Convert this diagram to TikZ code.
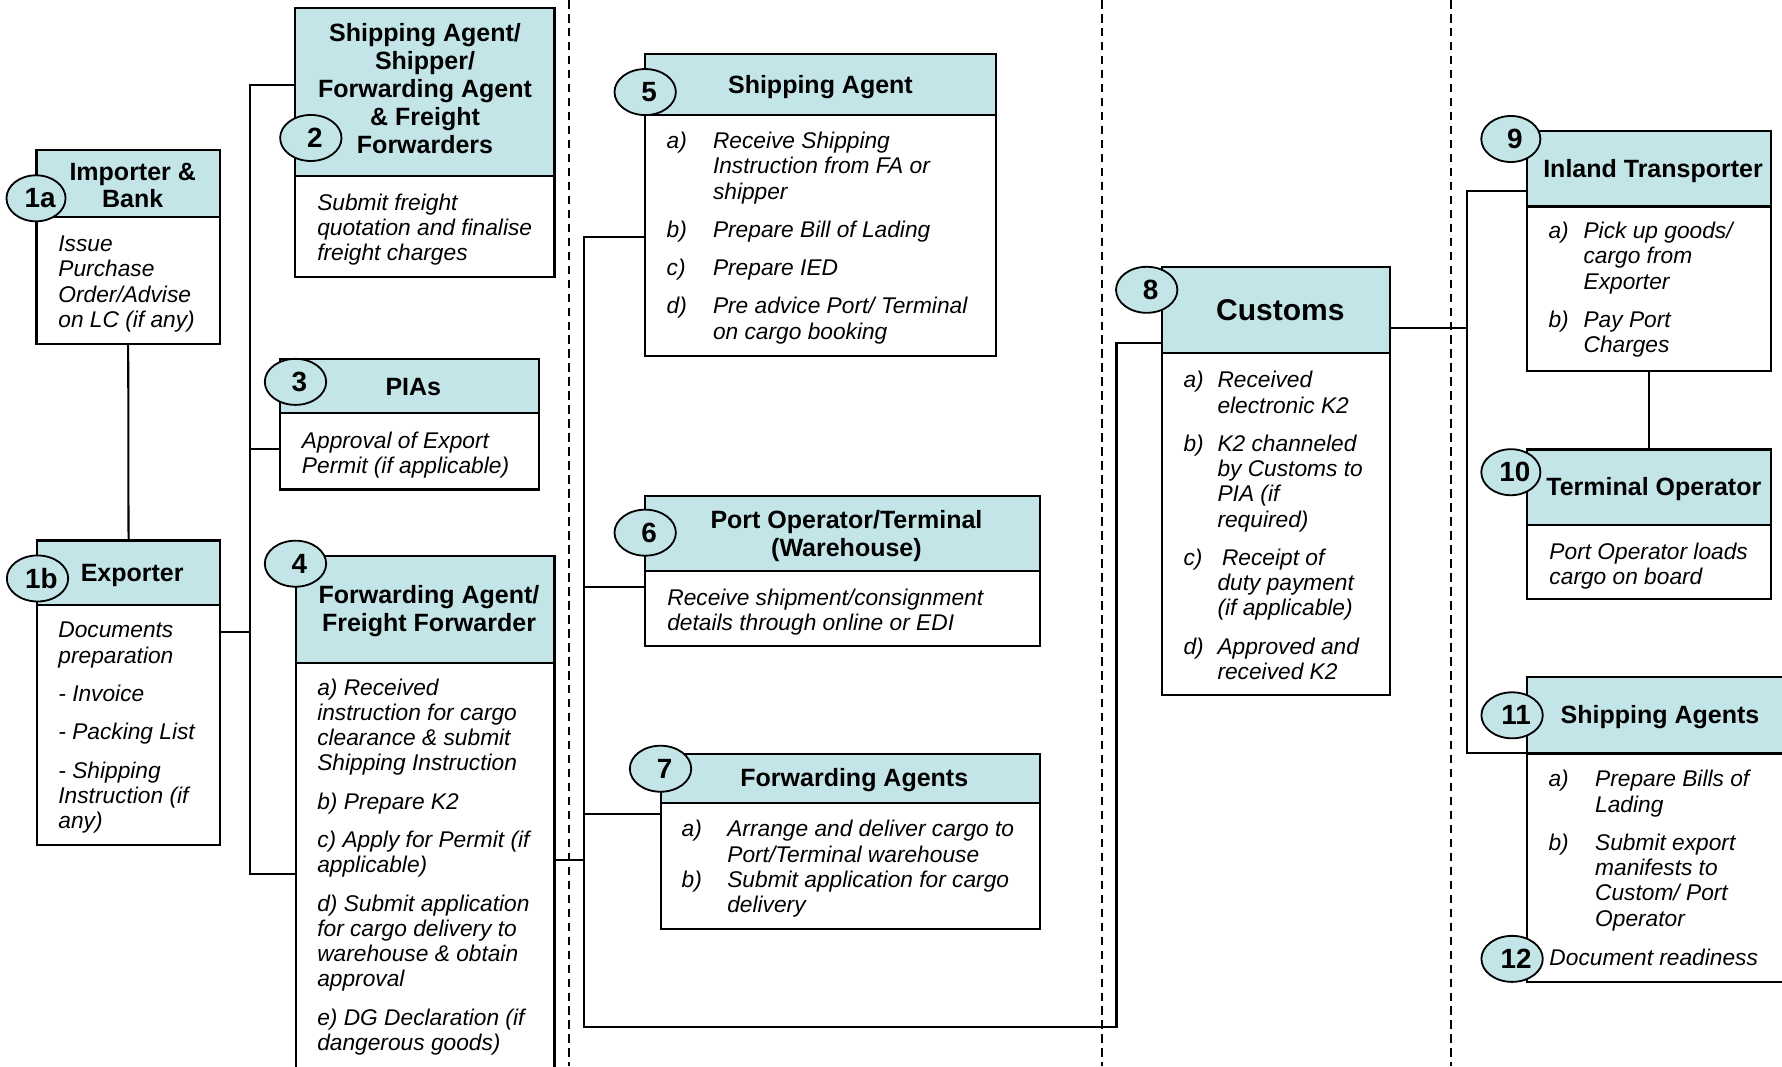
\documentclass[tikz,border=0pt]{standalone}
\usepackage{fontspec}
\setmainfont{Liberation Sans}
\usetikzlibrary{shapes.geometric}
\definecolor{hdrblue}{RGB}{196,229,232}
\newcommand{\bodyfont}{\fontsize{20}{22.2}\selectfont\itshape}
\newcommand{\titlefont}{\fontsize{22}{24.5}\selectfont\bfseries}
\newcommand{\bigtitlefont}{\fontsize{26.4}{28}\selectfont\bfseries}
\newcommand{\numfont}{\fontsize{24.5}{26}\selectfont\bfseries}
% name, x1, x2, top, header bottom, bottom
\newcommand{\mkbox}[6]{%
  \node[hdr,anchor=north west,minimum width={#3-#2},minimum height={#5-#4}] (h#1) at (#2,#4) {};
  \node[bdy,anchor=north west,minimum width={#3-#2},minimum height={#6-#5}] (b#1) at (#2,#5) {};
}
\begin{document}
\begin{tikzpicture}[x=1pt,y=-1pt,
  hdr/.style={rectangle,draw=black,fill=hdrblue,line width=2pt,inner sep=0pt,outer sep=0pt},
  bdy/.style={rectangle,draw=black,fill=white,line width=2pt,inner sep=0pt,outer sep=0pt},
  num/.style={ellipse,draw=black,fill=hdrblue,line width=1.6pt,minimum width=54pt,minimum height=40.5pt,inner sep=0pt,font=\numfont,execute at begin node={\hspace*{7pt}}},
  conn/.style={line width=1.8pt},
  sepline/.style={line width=1.6pt,dash pattern=on 7.5pt off 4.8pt},
  ttl/.style={inner sep=0pt,anchor=base,font=\titlefont},
  txt/.style={inner sep=0pt,anchor=base west,font=\bodyfont}]
\clip (0,0) rectangle (1568,938);
\fill[white] (0,0) rectangle (1568,938);

% separators
\coordinate (D1t) at (500.6,0);  \coordinate (D1b) at (500.6,938);
\coordinate (D2t) at (969.5,0);  \coordinate (D2b) at (969.5,938);
\coordinate (D3t) at (1276.7,0); \coordinate (D3b) at (1276.7,938);
\draw[sepline] (D1t) -- (D1b);
\draw[sepline] (D2t) -- (D2b);
\draw[sepline] (D3t) -- (D3b);

% boxes
\mkbox{1a}{32}{193.6}{132}{191.2}{302.7}
\mkbox{1b}{32.6}{193.6}{475.7}{532.4}{743.5}
\mkbox{2}{259.8}{487.8}{7.3}{154.6}{244}
\mkbox{3}{246.3}{474.4}{316}{363.7}{430.6}
\mkbox{4}{260.7}{487.8}{489.2}{583.1}{960}
\mkbox{5}{567.5}{876.1}{47.5}{101.2}{313}
\mkbox{6}{567.5}{915.4}{436.4}{502.1}{568.1}
\mkbox{7}{581.4}{915.4}{663.4}{706.3}{817.4}
\mkbox{8}{1022.7}{1223.1}{235.2}{310.9}{611.5}
\mkbox{9}{1343.9}{1558.3}{115}{181.8}{326.2}
\mkbox{10}{1343.9}{1558.3}{395.4}{462}{527.3}
\mkbox{11}{1343.9}{1585}{596}{662.9}{863.8}

% left connectors
\coordinate (L1) at (220,74.8);
\coordinate (L2) at (220,395.4);
\coordinate (L3) at (220,555.8);
\coordinate (L4) at (220,769);
\draw[conn] (b1a.south) -- (h1b.north);
\draw[conn] (h2.west |- L1) -- (L1) -- (L4) -- (b4.west |- L4);
\draw[conn] (b3.west |- L2) -- (L2);
\draw[conn] (b1b.east |- L3) -- (L3);

% middle connectors
\coordinate (M1) at (514,208.2);
\coordinate (M2) at (514,516.2);
\coordinate (M3) at (514,716.5);
\coordinate (M4) at (514,756.7);
\coordinate (M5) at (514,903.4);
\coordinate (M6) at (982.4,903.4);
\coordinate (M7) at (982.4,302.1);
\draw[conn] (b5.west |- M1) -- (M1) -- (M5) -- (M6) -- (M7) -- (h8.west |- M7);
\draw[conn] (b6.west |- M2) -- (M2);
\draw[conn] (b7.west |- M3) -- (M3);
\draw[conn] (b4.east |- M4) -- (M4);

% right connectors
\coordinate (R0) at (1290.5,288.9);
\coordinate (R1) at (1290.5,167.8);
\coordinate (R2) at (1290.5,662.9);
\draw[conn] (h8.east |- R0) -- (R0);
\draw[conn] (h9.west |- R1) -- (R1) -- (R2) -- (h11.south west);
\draw[conn] (b9.south) -- (h10.north);

% number ellipses
\node[num,minimum width=52pt] (n1a) at (31.7,174.5) {1a};
\node[num] (n1b) at (33,509) {1b};
\node[num] (n2) at (273.5,121.4) {2};
\node[num] (n3) at (260,336) {3};
\node[num] (n4) at (260,496) {4};
\node[num] (n5) at (567.7,81) {5};
\node[num] (n6) at (567.7,468.7) {6};
\node[num] (n7) at (581.2,676.4) {7};
\node[num] (n8) at (1009,255) {8};
\node[num,minimum width=52pt] (n9) at (1329.4,122.3) {9};
\node[num,minimum width=52pt] (n10) at (1329.4,415.5) {10};
\node[num] (n11) at (1330.5,629.4) {11};
\node[num] (n12) at (1330.5,843.7) {12};

% titles
\node[ttl] (T1a) at (116.8,158.4) {\begin{tabular}[t]{@{}c@{}}Importer \&\\Bank\end{tabular}};
\node[ttl] (T1b) at (116.3,511.8) {Exporter};
\node[ttl] (T2) at (374,36.7) {\begin{tabular}[t]{@{}c@{}}Shipping Agent/\\Shipper/\\Forwarding Agent\\\& Freight\\Forwarders\end{tabular}};
\node[ttl] (T3) at (363.7,347.6) {PIAs};
\node[ttl] (T4) at (377.5,530.9) {\begin{tabular}[t]{@{}c@{}}Forwarding Agent/\\Freight Forwarder\end{tabular}};
\node[ttl] (T5) at (721.9,82.1) {Shipping Agent};
\node[ttl] (T6) at (744.8,464.9) {\begin{tabular}[t]{@{}c@{}}Port Operator/Terminal\\(Warehouse)\end{tabular}};
\node[ttl] (T7) at (751.7,692.2) {Forwarding Agents};
\node[ttl,font=\bigtitlefont] (T8) at (1126.6,282.2) {Customs};
\node[ttl] (T9) at (1454.5,156) {Inland Transporter};
\node[ttl] (T10) at (1455.2,436.4) {Terminal Operator};
\node[ttl] (T11) at (1460.6,637) {Shipping Agents};

% body texts
\node[txt] (B1a) at (51.2,221.5) {\begin{tabular}[t]{@{}l@{}}Issue\\Purchase\\Order/Advise\\on LC (if any)\end{tabular}};
\node[txt] (B1b) at (51.2,561.3) {\begin{tabular}[t]{@{}l@{}}Documents\\preparation\\[11.5pt]- Invoice\\[11.5pt]- Packing List\\[11.5pt]- Shipping\\Instruction (if\\any)\end{tabular}};
\node[txt] (B2) at (279,185) {\begin{tabular}[t]{@{}l@{}}Submit freight\\quotation and finalise\\freight charges\end{tabular}};
\node[txt] (B3) at (265.5,394.5) {\begin{tabular}[t]{@{}l@{}}Approval of Export\\Permit (if applicable)\end{tabular}};
\node[txt] (B4) at (279,611.7) {\begin{tabular}[t]{@{}l@{}}a) Received\\instruction for cargo\\clearance \& submit\\Shipping Instruction\\[11.5pt]b) Prepare K2\\[11.5pt]c) Apply for Permit (if\\applicable)\\[11.5pt]d) Submit application\\for cargo delivery to\\warehouse \& obtain\\approval\\[11.5pt]e) DG Declaration (if\\dangerous goods)\end{tabular}};
\node[txt] (B5) at (586.4,130.7) {\begin{tabular}[t]{@{}p{40.8pt}@{}l@{}}a)&Receive Shipping\\&Instruction from FA or\\&shipper\\[11.5pt]b)&Prepare Bill of Lading\\[11.5pt]c)&Prepare IED\\[11.5pt]d)&Pre advice Port/ Terminal\\&on cargo booking\end{tabular}};
\node[txt] (B6) at (587,532.5) {\begin{tabular}[t]{@{}l@{}}Receive shipment/consignment\\details through online or EDI\end{tabular}};
\node[txt] (B7) at (599.6,736.4) {\begin{tabular}[t]{@{}p{40.2pt}@{}l@{}}a)&Arrange and deliver cargo to\\&Port/Terminal warehouse\\b)&Submit application for cargo\\&delivery\end{tabular}};
\node[txt] (B8) at (1041.2,341.3) {\begin{tabular}[t]{@{}p{29.9pt}@{}l@{}}a)&Received\\&electronic K2\\[11.5pt]b)&K2 channeled\\&by Customs to\\&PIA (if\\&required)\\[11.5pt]c)&\hspace{4pt}Receipt of\\&duty payment\\&(if applicable)\\[11.5pt]d)&Approved and\\&received K2\end{tabular}};
\node[txt] (B9) at (1362.4,209.9) {\begin{tabular}[t]{@{}p{30.8pt}@{}l@{}}a)&Pick up goods/\\&cargo from\\&Exporter\\[11.5pt]b)&Pay Port\\&Charges\end{tabular}};
\node[txt] (B10) at (1363.2,492) {\begin{tabular}[t]{@{}l@{}}Port Operator loads\\cargo on board\end{tabular}};
\node[txt] (B11) at (1362.4,692.3) {\begin{tabular}[t]{@{}p{41pt}@{}l@{}}a)&Prepare Bills of\\&Lading\\[11.5pt]b)&Submit export\\&manifests to\\&Custom/ Port\\&Operator\end{tabular}};
\node[txt] (B12) at (1363.2,849.3) {Document readiness};
\end{tikzpicture}
\end{document}
